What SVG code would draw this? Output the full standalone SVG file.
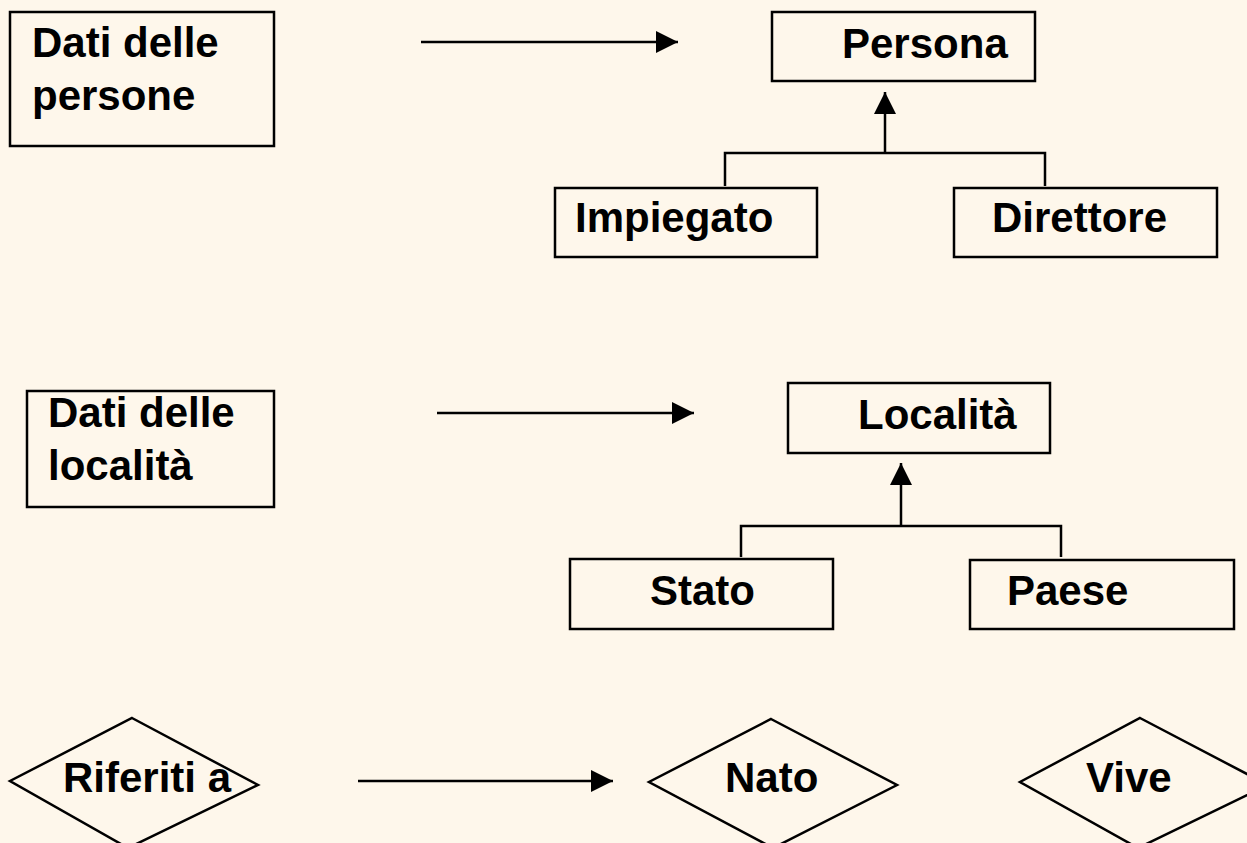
<svg xmlns="http://www.w3.org/2000/svg" width="1247" height="843" viewBox="0 0 1247 843">
  <defs>
    <style>
      .box { fill: none; stroke: #000; stroke-width: 2.5; }
      .link { fill: none; stroke: #000; stroke-width: 2.5; }
      .lbl { font-family: "Liberation Sans", Arial, sans-serif; font-weight: bold; font-size: 42px; fill: #000; }
    </style>
    <marker id="head" markerUnits="userSpaceOnUse" markerWidth="22" markerHeight="22" viewBox="0 0 22 22" refX="22" refY="11" orient="auto">
      <path d="M0,0 L22,11 L0,22 z" fill="#000"/>
    </marker>
  </defs>

  <rect x="0" y="0" width="1247" height="843" fill="#FEF7EB"/>

  <!-- source boxes -->
  <g id="dati-persone">
    <rect class="box" x="10" y="12" width="264" height="134"/>
    <text class="lbl" x="32" y="57">Dati delle</text>
    <text class="lbl" x="32" y="110">persone</text>
  </g>
  <g id="dati-localita">
    <rect class="box" x="27" y="391" width="247" height="116"/>
    <text class="lbl" x="48" y="427">Dati delle</text>
    <text class="lbl" x="48" y="480">località</text>
  </g>
  <g id="riferiti-a">
    <polygon class="box" points="132,718 258,785 128,848 10,781"/>
    <text class="lbl" x="63" y="792">Riferiti a</text>
  </g>

  <!-- entity hierarchy: persons -->
  <g id="persona">
    <rect class="box" x="772" y="12" width="263" height="69"/>
    <text class="lbl" x="842" y="58">Persona</text>
  </g>
  <g id="impiegato">
    <rect class="box" x="555" y="188" width="262" height="69"/>
    <text class="lbl" x="575" y="232">Impiegato</text>
  </g>
  <g id="direttore">
    <rect class="box" x="954" y="188" width="263" height="69"/>
    <text class="lbl" x="992" y="232">Direttore</text>
  </g>

  <!-- entity hierarchy: places -->
  <g id="localita">
    <rect class="box" x="788" y="383" width="262" height="70"/>
    <text class="lbl" x="858" y="429">Località</text>
  </g>
  <g id="stato">
    <rect class="box" x="570" y="559" width="263" height="70"/>
    <text class="lbl" x="650" y="605">Stato</text>
  </g>
  <g id="paese">
    <rect class="box" x="970" y="560" width="264" height="69"/>
    <text class="lbl" x="1007" y="605">Paese</text>
  </g>

  <!-- relationships -->
  <g id="nato">
    <polygon class="box" points="771,719 897,785 773,848 649,782"/>
    <text class="lbl" x="725" y="792">Nato</text>
  </g>
  <g id="vive">
    <polygon class="box" points="1140,718 1268,785 1138,848 1020,782"/>
    <text class="lbl" x="1086" y="792">Vive</text>
  </g>

  <!-- connectors -->
  <g id="connectors">
    <line class="link" x1="421" y1="42" x2="678" y2="42" marker-end="url(#head)"/>
    <line class="link" x1="437" y1="413" x2="694" y2="413" marker-end="url(#head)"/>
    <line class="link" x1="358" y1="781" x2="613" y2="781" marker-end="url(#head)"/>
    <polyline class="link" points="725,186 725,153 1045,153 1045,186"/>
    <line class="link" x1="885" y1="153" x2="885" y2="92" marker-end="url(#head)"/>
    <polyline class="link" points="741,557 741,526 1061,526 1061,557"/>
    <line class="link" x1="901" y1="526" x2="901" y2="463" marker-end="url(#head)"/>
  </g>
</svg>
